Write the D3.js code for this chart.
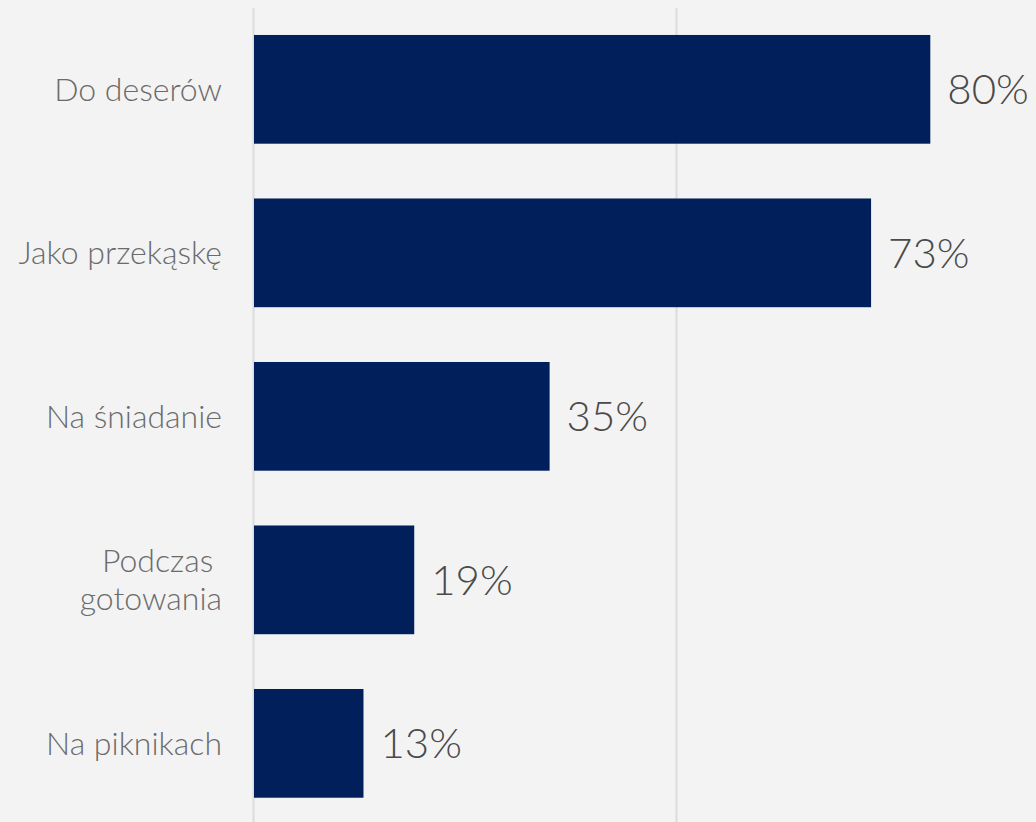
<!DOCTYPE html>
<html>
<head>
<meta charset="utf-8">
<script src="https://cdn.jsdelivr.net/npm/d3@7"></script>
<style>
  html, body { margin: 0; padding: 0; background: #f3f3f3; }
  svg { display: block; }
  text { font-family: Lato, "Open Sans", sans-serif; }
</style>
</head>
<body>
<svg id="chart" width="1036" height="822"></svg>
<script>
// Usage occasions and share of respondents (%)
const categories = [
  ["Do deserów"],
  ["Jako przekąskę"],
  ["Na śniadanie"],
  ["Podczas ", "gotowania"],
  ["Na piknikach"]
];
const values = [80, 73, 35, 19, 13];
const gridTicks = [0, 50];

const W = 1036, H = 822;
const svg = d3.select("#chart");

svg.append("rect").attr("width", W).attr("height", H).attr("fill", "#f3f3f3");

const x = d3.scaleLinear().domain([0, 100]).range([253.5, 1099.5]);
const y = d3.scaleBand()
  .domain(d3.range(values.length))
  .range([-19.8, 852.5])
  .paddingInner(0.335)
  .paddingOuter(0.335);

// vertical gridlines
svg.append("g")
  .selectAll("line")
  .data(gridTicks)
  .join("line")
  .attr("x1", d => x(d))
  .attr("x2", d => x(d))
  .attr("y1", 8)
  .attr("y2", H)
  .attr("stroke", "#dcdcdc")
  .attr("stroke-width", 2);

// bars
svg.append("g")
  .selectAll("rect")
  .data(values)
  .join("rect")
  .attr("x", x(0) + 0.5)
  .attr("y", (d, i) => y(i))
  .attr("width", d => x(d) - x(0) - 0.5)
  .attr("height", y.bandwidth())
  .attr("fill", "#001f5b");

// value labels
svg.append("g")
  .selectAll("text")
  .data(values)
  .join("text")
  .attr("x", d => x(d) + 17)
  .attr("y", (d, i) => y(i) + y.bandwidth() / 2)
  .attr("dy", "0.36em")
  .attr("font-size", 42)
  .attr("font-weight", 300)
  .attr("fill", "#4a4a4a")
  .text(d => d + "%");

// category labels
const fs = 32, lineH = 38;
const cat = svg.append("g")
  .selectAll("text")
  .data(categories)
  .join("text")
  .attr("text-anchor", "end")
  .attr("font-size", fs)
  .attr("font-weight", 300)
  .attr("fill", "#6b6b6b")
  .attr("xml:space", "preserve")
  .style("white-space", "pre")
  .attr("y", (d, i) => y(i) + y.bandwidth() / 2);

cat.selectAll("tspan")
  .data((d) => d.map((t, j) => ({ t, j, n: d.length })))
  .join("tspan")
  .attr("x", 222)
  .attr("dy", d => d.j === 0 ? (0.36 * fs - (d.n - 1) * lineH / 2) + "px" : lineH + "px")
  .text(d => d.t);
</script>
</body>
</html>
